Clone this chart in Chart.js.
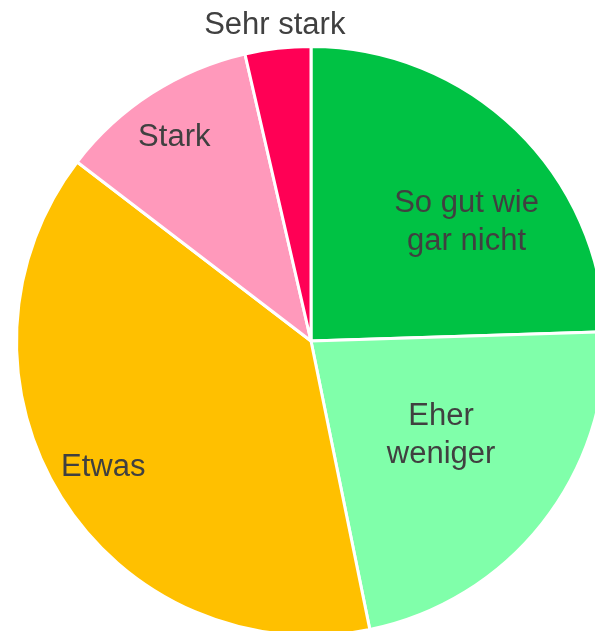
<!DOCTYPE html>
<html>
<head>
<meta charset="utf-8">
<script src="https://cdn.jsdelivr.net/npm/chart.js@4"></script>
<style>
  html, body { margin: 0; padding: 0; background: #fff; overflow: hidden; width: 595px; height: 631px; }
  #wrap { position: absolute; left: 0; top: 0; width: 622px; height: 682px; }
</style>
</head>
<body>
<div id="wrap"><canvas id="myChart"></canvas></div>
<script>
const labels = ["So gut wie gar nicht", "Eher weniger", "Etwas", "Stark", "Sehr stark"];
const labelLines = [["So gut wie", "gar nicht"], ["Eher", "weniger"], ["Etwas"], ["Stark"], ["Sehr stark"]];
const values = [24.5, 22.3, 38.6, 11.0, 3.6];
const colors = ["#00C244", "#80FFAA", "#FFC000", "#FF99BB", "#FF0055"];

// where each label sits: fraction along the slice, fraction of radius
const labelPos = [[0.59, 0.67], [0.46, 0.54], [0.51, 0.82], [0.48, 0.84], [0.5, 1.09]];

const sliceLabels = {
    id: "sliceLabels",
    afterDraw(chart) {
        const ctx = chart.ctx;
        const arcs = chart.getDatasetMeta(0).data;
        ctx.save();
        ctx.font = "31px 'Liberation Sans', Arial, sans-serif";
        ctx.fillStyle = "#404040";
        ctx.textAlign = "center";
        ctx.textBaseline = "middle";
        arcs.forEach((arc, i) => {
            const p = arc.getProps(["x", "y", "startAngle", "endAngle", "outerRadius"], true);
            const a = p.startAngle + (p.endAngle - p.startAngle) * labelPos[i][0];
            const r = p.outerRadius * labelPos[i][1];
            const cx = p.x + Math.cos(a) * r;
            const cy = p.y + Math.sin(a) * r + 3;
            const lines = labelLines[i];
            const lh = 38;
            lines.forEach((t, j) => {
                ctx.fillText(t, cx, cy + (j - (lines.length - 1) / 2) * lh);
            });
        });
        ctx.restore();
    }
};

new Chart("myChart", {
    type: "pie",
    data: {
        labels: labels,
        datasets: [{
            data: values,
            backgroundColor: colors,
            borderColor: "#ffffff",
            borderWidth: 3
        }]
    },
    options: {
        responsive: true,
        maintainAspectRatio: false,
        animation: false,
        layout: { padding: 15 },
        plugins: {
            legend: { display: false },
            tooltip: { enabled: false }
        }
    },
    plugins: [sliceLabels]
});
</script>
</body>
</html>
